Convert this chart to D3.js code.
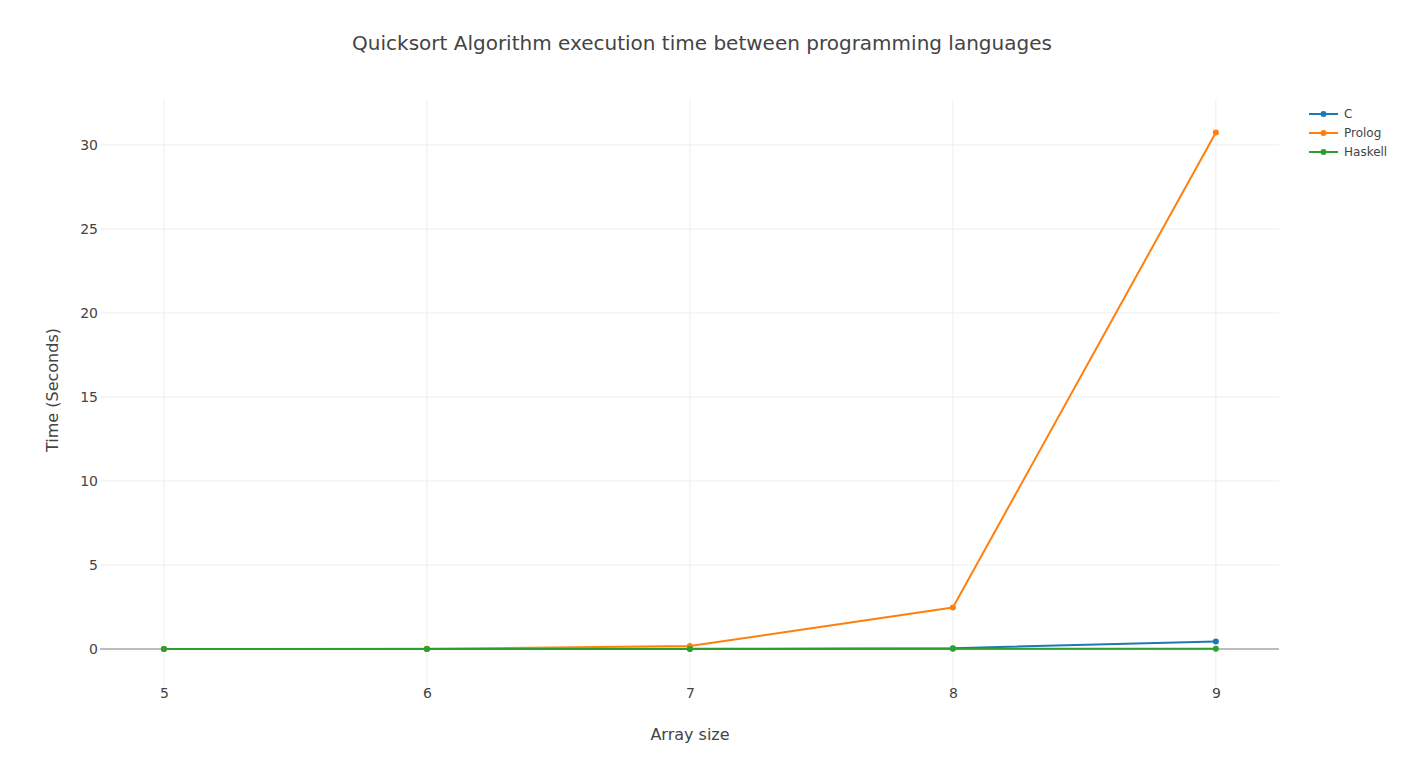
<!DOCTYPE html>
<html><head><meta charset="utf-8">
<script src="https://d3js.org/d3.v7.min.js"></script>
<style>body{margin:0;background:#fff;} svg{display:block;font-family:"DejaVu Sans",Verdana,sans-serif;}</style>
</head><body>
<svg id="chart" width="1404" height="782"></svg>
<script>
const arraySizes = [5, 6, 7, 8, 9];
const seriesNames = ["C", "Prolog", "Haskell"];
const cTimes = [0.0, 0.002, 0.01, 0.05, 0.45];
const prologTimes = [0.0, 0.01, 0.18, 2.47, 30.74];
const haskellTimes = [0.0, 0.001, 0.005, 0.01, 0.02];
const yTicks = [0, 5, 10, 15, 20, 25, 30];
const colors = ["#1f77b4", "#ff7f0e", "#2ca02c"];

(function () {
const series = [cTimes, prologTimes, haskellTimes].map((v, i) => ({name: seriesNames[i], values: v, color: colors[i]}));

const svg = d3.select("#chart");
const pL = 100, pR = 1279, pT = 100, pB = 689;
const x = d3.scaleLinear().domain([4.757, 9.24]).range([pL, pR]);
const y = d3.scaleLinear().domain([-2.38, 32.67]).range([pB, pT]);

// grid
const g = svg.append("g");
g.selectAll(".vg").data(arraySizes).enter().append("line")
  .attr("x1", d => x(d)).attr("x2", d => x(d)).attr("y1", pT).attr("y2", pB)
  .attr("stroke", "#eee").attr("stroke-width", 1);
g.selectAll(".hg").data(yTicks.filter(d => d !== 0)).enter().append("line")
  .attr("x1", pL).attr("x2", pR).attr("y1", d => y(d)).attr("y2", d => y(d))
  .attr("stroke", "#eee").attr("stroke-width", 1);
// zero line
g.append("line").attr("x1", pL).attr("x2", pR).attr("y1", y(0)).attr("y2", y(0))
  .attr("stroke", "#444").attr("stroke-width", 1).attr("opacity", 0.7);

// axes
const xAxis = d3.axisBottom(x).tickValues(arraySizes).tickSize(0).tickPadding(0).tickFormat(d3.format("d"));
const xa = svg.append("g").attr("transform", `translate(0,${pB + 4})`).call(xAxis);
xa.select(".domain").remove();
xa.selectAll("text").attr("fill", "#444").attr("font-size", 14).attr("font-family", "DejaVu Sans").attr("dy", "0.35em").attr("y", 0);

const yAxis = d3.axisLeft(y).tickValues(yTicks).tickSize(0).tickPadding(0);
const ya = svg.append("g").attr("transform", `translate(${pL - 2},0)`).call(yAxis);
ya.select(".domain").remove();
ya.selectAll("text").attr("fill", "#444").attr("font-size", 14).attr("font-family", "DejaVu Sans").attr("x", 0);

// lines
const line = d3.line().x((d, i) => x(arraySizes[i])).y(d => y(d));
series.forEach(s => {
  svg.append("path").datum(s.values).attr("d", line)
    .attr("fill", "none").attr("stroke", s.color).attr("stroke-width", 2).attr("stroke-linejoin", "round");
  svg.append("g").selectAll("circle").data(s.values).enter().append("circle")
    .attr("cx", (d, i) => x(arraySizes[i])).attr("cy", d => y(d)).attr("r", 3).attr("fill", s.color);
});

// titles
svg.append("text").attr("x", 702).attr("y", 50).attr("text-anchor", "middle")
  .attr("font-size", 20).attr("fill", "#444").text("Quicksort Algorithm execution time between programming languages");
svg.append("text").attr("x", 690).attr("y", 740).attr("text-anchor", "middle")
  .attr("font-size", 16).attr("fill", "#444").text("Array size");
svg.append("text").attr("transform", "translate(58,390) rotate(-90)").attr("text-anchor", "middle")
  .attr("font-size", 16).attr("fill", "#444").text("Time (Seconds)");

// legend
const lg = svg.append("g").attr("transform", "translate(1309,114)");
series.forEach((s, i) => {
  const row = lg.append("g").attr("transform", `translate(0,${i * 19})`);
  row.append("line").attr("x1", 0).attr("x2", 29).attr("y1", 0).attr("y2", 0).attr("stroke", s.color).attr("stroke-width", 2);
  row.append("circle").attr("cx", 14.5).attr("cy", 0).attr("r", 3).attr("fill", s.color);
  row.append("text").attr("x", 35).attr("y", 0).attr("dy", "0.35em").attr("font-size", 12).attr("fill", "#444").text(s.name);
});
})();
</script>
</body></html>
